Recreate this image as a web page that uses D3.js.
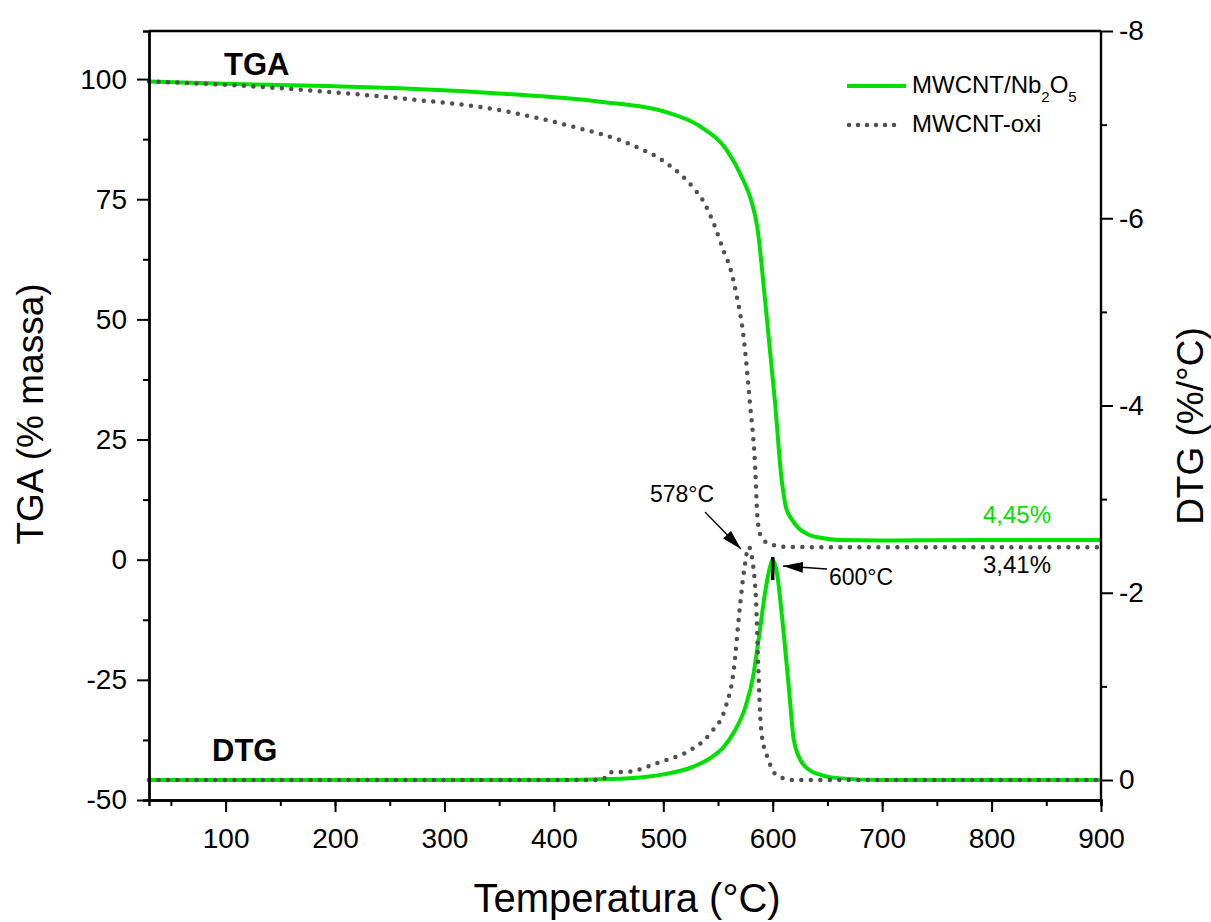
<!DOCTYPE html>
<html>
<head>
<meta charset="UTF-8">
<style>
body { margin: 0; background: #fff; }
text { font-family: "Liberation Sans", Arial, sans-serif; }
</style>
</head>
<body>
<svg id="chart"></svg>
<script src="https://d3js.org/d3.v7.min.js"></script>
<script>
// TGA, MWCNT/Nb2O5 (% massa)
let tgaNbTemp = [30, 100, 200, 259, 350, 442, 500, 534, 558, 573, 580, 586, 593, 602, 608, 612, 617, 624, 632, 645, 660, 700, 800, 900];
let tgaNbVal  = [99.5, 99.0, 98.5, 98.1, 97.0, 95.3, 93.3, 90.1, 85.2, 79, 75, 69, 54, 33, 17, 11, 8.5, 6.5, 5.3, 4.5, 4.1, 4.0, 4.1, 4.1];
// TGA, MWCNT-oxi
let tgaOxTemp = [30, 100, 168, 259, 351, 412, 472, 503, 527, 536, 546, 556, 561, 567, 573, 579, 584, 586, 589, 595, 610, 650, 900];
let tgaOxVal  = [99.5, 98.8, 97.8, 96.0, 93.5, 90.4, 86.2, 82.5, 77.5, 74.8, 70, 63.7, 60.8, 55, 47, 33, 19, 8.8, 5, 3.5, 2.7, 2.6, 2.6];
// DTG (%/°C)
let dtgNbTemp = [30, 200, 400, 450, 481, 500, 527, 545, 555, 565, 575, 582, 587, 593, 597, 600, 604, 608, 611, 615, 619, 625, 631, 645, 660, 700, 900];
let dtgNbVal  = [0, 0, 0, -0.01, -0.03, -0.06, -0.14, -0.25, -0.35, -0.52, -0.78, -1.1, -1.49, -2.0, -2.25, -2.35, -2.2, -1.8, -1.45, -0.95, -0.45, -0.22, -0.13, -0.05, -0.02, 0, 0];
let dtgOxTemp = [30, 300, 440, 446, 450, 470, 494, 512, 525, 543, 557, 564, 570, 574, 578, 582, 585, 587, 589, 592, 595, 600, 607, 620, 900];
let dtgOxVal  = [0, 0, 0, -0.02, -0.08, -0.09, -0.18, -0.25, -0.32, -0.5, -0.78, -1.14, -1.85, -2.25, -2.49, -2.3, -1.85, -1.14, -0.6, -0.35, -0.25, -0.1, -0.03, 0, 0];

let seriesNames = ["MWCNT/Nb2O5", "MWCNT-oxi"];
let xTicks = [100, 200, 300, 400, 500, 600, 700, 800, 900];
let yTicks = [-50, -25, 0, 25, 50, 75, 100];
let y2Ticks = [0, -2, -4, -6, -8];

let width = 1211, height = 922;
let pLeft = 149, pRight = 1101, pTop = 31, pBottom = 800;
let green = "#00e000", grey = "#505050";

let svg = d3.select("#chart").attr("width", width).attr("height", height);

let x = d3.scaleLinear().domain([30, 900]).range([pLeft, pRight]);
let y = d3.scaleLinear().domain([-50, 110]).range([pBottom, pTop]);
let y2 = d3.scaleLinear().domain([0, -8]).range([780, pTop]);

// arrow marker
svg.append("defs").append("marker")
    .attr("id", "arr")
    .attr("viewBox", "0 0 10 10")
    .attr("refX", 10).attr("refY", 5)
    .attr("markerWidth", 20).attr("markerHeight", 11)
    .attr("markerUnits", "userSpaceOnUse")
    .attr("orient", "auto")
    .attr("preserveAspectRatio", "none")
  .append("path").attr("d", "M0,0 L10,5 L0,10 z").attr("fill", "#000");

// lines
let zip = (t, v) => t.map((d, i) => [d, v[i]]);
let lineY = d3.line().x(d => x(d[0])).y(d => y(d[1])).curve(d3.curveMonotoneX);
let lineY2 = d3.line().x(d => x(d[0])).y(d => y2(d[1])).curve(d3.curveMonotoneX);

let plot = svg.append("g");
plot.append("path").attr("d", lineY(zip(tgaNbTemp, tgaNbVal)))
    .attr("fill", "none").attr("stroke", green).attr("stroke-width", 4);
plot.append("path").attr("d", lineY2(zip(dtgNbTemp, dtgNbVal)))
    .attr("fill", "none").attr("stroke", green).attr("stroke-width", 4);
plot.append("path").attr("d", lineY(zip(tgaOxTemp, tgaOxVal)))
    .attr("fill", "none").attr("stroke", grey).attr("stroke-width", 4.5)
    .attr("stroke-dasharray", "0 9.5").attr("stroke-linecap", "round");
plot.append("path").attr("d", lineY2(zip(dtgOxTemp, dtgOxVal)))
    .attr("fill", "none").attr("stroke", grey).attr("stroke-width", 4.5)
    .attr("stroke-dasharray", "0 9.5").attr("stroke-linecap", "round");

// axes
let fmt = d => String(d);
let axisStyle = g => {
  g.selectAll("path").attr("stroke", "#000").attr("stroke-width", 2.4);
  g.selectAll("line").attr("stroke", "#000").attr("stroke-width", 2);
  g.selectAll("text").attr("fill", "#000").attr("font-size", 28)
    .style("font-family", "'Liberation Sans', Arial, sans-serif");
};

svg.append("g").attr("transform", `translate(0,${pBottom})`)
    .call(d3.axisBottom(x).tickValues(d3.range(50, 901, 50)).tickSize(6).tickFormat(""))
    .call(axisStyle);
svg.append("g").attr("transform", `translate(0,${pBottom})`)
    .call(d3.axisBottom(x).tickValues(xTicks).tickSize(12).tickPadding(16).tickSizeOuter(0).tickFormat(fmt))
    .call(axisStyle);

svg.append("g").attr("transform", `translate(${pLeft},0)`)
    .call(d3.axisLeft(y).tickValues(d3.range(-37.5, 110, 25)).tickSize(6).tickFormat(""))
    .call(axisStyle);
svg.append("g").attr("transform", `translate(${pLeft},0)`)
    .call(d3.axisLeft(y).tickValues(yTicks).tickSize(12).tickPadding(10).tickSizeOuter(0).tickFormat(fmt))
    .call(axisStyle);

svg.append("g").attr("transform", `translate(${pRight},0)`)
    .call(d3.axisRight(y2).tickValues([-1, -3, -5, -7]).tickSize(6).tickFormat(""))
    .call(axisStyle)
    .call(g => g.select(".domain").remove());
svg.append("g").attr("transform", `translate(${pRight},0)`)
    .call(d3.axisRight(y2).tickValues(y2Ticks).tickSize(12).tickPadding(6).tickSizeOuter(0).tickFormat(fmt))
    .call(axisStyle)
    .call(g => g.select(".domain").attr("d", `M0,${pTop}V${pBottom}`));

svg.append("line").attr("x1", pLeft).attr("x2", pRight).attr("y1", pTop).attr("y2", pTop)
    .attr("stroke", "#000").attr("stroke-width", 2.4);

// axis titles
svg.append("text").attr("x", 627).attr("y", 912)
    .attr("text-anchor", "middle").attr("font-size", 40).text("Temperatura (°C)");
svg.append("text").attr("transform", `translate(43,414) rotate(-90)`)
    .attr("text-anchor", "middle").attr("font-size", 37).text("TGA (% massa)");
svg.append("text").attr("transform", `translate(1203,426) rotate(-90)`)
    .attr("text-anchor", "middle").attr("font-size", 37).text("DTG (%/°C)");

// curve labels
svg.append("text").attr("x", 224).attr("y", 75).attr("font-size", 31).attr("font-weight", "bold").text("TGA");
svg.append("text").attr("x", 212).attr("y", 761).attr("font-size", 31).attr("font-weight", "bold").text("DTG");

// annotations
svg.append("text").attr("x", 650).attr("y", 502).attr("font-size", 23).text("578°C");
svg.append("line").attr("x1", 705).attr("y1", 512).attr("x2", 741).attr("y2", 549)
    .attr("stroke", "#000").attr("stroke-width", 1.3).attr("marker-end", "url(#arr)");
svg.append("text").attr("x", 829).attr("y", 585).attr("font-size", 23).text("600°C");
svg.append("line").attr("x1", 827).attr("y1", 569).attr("x2", 783).attr("y2", 566)
    .attr("stroke", "#000").attr("stroke-width", 1.3).attr("marker-end", "url(#arr)");
svg.append("line").attr("x1", x(600)).attr("x2", x(600)).attr("y1", 557).attr("y2", 580)
    .attr("stroke", "#000").attr("stroke-width", 3.5);
svg.append("text").attr("x", 983).attr("y", 523).attr("font-size", 24).attr("fill", green).text("4,45%");
svg.append("text").attr("x", 983).attr("y", 573).attr("font-size", 24).attr("fill", "#000").text("3,41%");

// legend
let lg = svg.append("g");
lg.append("line").attr("x1", 847).attr("x2", 906).attr("y1", 86).attr("y2", 86)
    .attr("stroke", green).attr("stroke-width", 4);
let t1 = lg.append("text").attr("x", 912).attr("y", 93).attr("font-size", 24);
t1.append("tspan").text("MWCNT/Nb");
t1.append("tspan").attr("dy", 9).attr("font-size", 15).text("2");
t1.append("tspan").attr("dy", -9).text("O");
t1.append("tspan").attr("dy", 9).attr("font-size", 15).text("5");
lg.append("line").attr("x1", 849).attr("x2", 903).attr("y1", 125).attr("y2", 125)
    .attr("stroke", grey).attr("stroke-width", 4.5)
    .attr("stroke-dasharray", "0 9").attr("stroke-linecap", "round");
lg.append("text").attr("x", 912).attr("y", 132).attr("font-size", 24).text(seriesNames[1]);
</script>
</body>
</html>
